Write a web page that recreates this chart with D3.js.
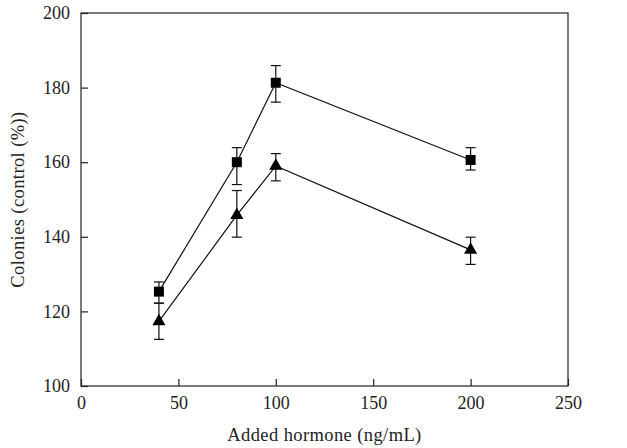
<!DOCTYPE html>
<html lang="en">
<head>
<meta charset="UTF-8">
<script src="https://cdnjs.cloudflare.com/ajax/libs/d3/7.9.0/d3.min.js"></script>
<style>
    body { margin: 0; padding: 0; background: #fff; }
    svg { display: block; }
    text { font-family: "Liberation Serif", "DejaVu Serif", serif; fill: #222; }
</style>
</head>
<body>
<div id="chart"></div>
<script>
    // data
    const doses = [40, 80, 100, 200];
    const squareMean = [125.3, 160.0, 181.3, 160.6];
    const squareLow  = [122.2, 154.0, 176.1, 157.9];
    const squareHigh = [127.9, 163.9, 185.9, 163.9];
    const triMean = [117.3, 145.8, 159.0, 136.5];
    const triLow  = [112.5, 139.9, 155.0, 132.6];
    const triHigh = [122.2, 152.4, 162.3, 139.9];
    const xTicks = [0, 50, 100, 150, 200, 250];
    const yTicks = [100, 120, 140, 160, 180, 200];

    const width = 627, height = 448;
    const margin = {top: 13, right: 59, bottom: 62, left: 81};

    const svg = d3.select("#chart").append("svg")
        .attr("width", width).attr("height", height);

    const x = d3.scaleLinear().domain([0, 250]).range([margin.left, width - margin.right]);
    const y = d3.scaleLinear().domain([100, 200]).range([height - margin.bottom, margin.top]);

    // frame
    svg.append("rect")
        .attr("x", x(0)).attr("y", y(200))
        .attr("width", x(250) - x(0)).attr("height", y(100) - y(200))
        .attr("fill", "none").attr("stroke", "#222").attr("stroke-width", 1.2);

    // axes with inward ticks
    const xAxis = svg.append("g")
        .attr("transform", `translate(0,${y(100)})`)
        .call(d3.axisBottom(x).tickValues(xTicks).tickSizeInner(-7).tickSizeOuter(0).tickPadding(9));
    const yAxis = svg.append("g")
        .attr("transform", `translate(${x(0)},0)`)
        .call(d3.axisLeft(y).tickValues(yTicks).tickSizeInner(-7).tickSizeOuter(0).tickPadding(10));
    [xAxis, yAxis].forEach(g => {
        g.select(".domain").remove();
        g.selectAll(".tick line").attr("stroke", "#222").attr("stroke-width", 1.2);
        g.selectAll(".tick text").attr("font-size", 18).style("fill", "#222");
    });
    xAxis.selectAll(".tick text").attr("dy", "0.8em");
    yAxis.selectAll(".tick text").attr("dx", "-0.05em");

    svg.append("text")
        .attr("x", (x(0) + x(250)) / 2).attr("y", height - 7)
        .attr("text-anchor", "middle").attr("font-size", 18.5)
        .attr("letter-spacing", 0.4)
        .text("Added hormone (ng/mL)");
    svg.append("text")
        .attr("transform", `translate(24,${(y(100) + y(200)) / 2}) rotate(-90)`)
        .attr("text-anchor", "middle").attr("font-size", 18.5)
        .attr("letter-spacing", 0.4)
        .text("Colonies (control (%))");

    function drawSeries(mean, low, high, shape) {
        const pts = doses.map((d, i) => ({x: d, m: mean[i], lo: low[i], hi: high[i]}));
        const line = d3.line().x(d => x(d.x)).y(d => y(d.m));
        svg.append("path").datum(pts)
            .attr("d", line).attr("fill", "none")
            .attr("stroke", "#111").attr("stroke-width", 1.2);

        const eb = svg.append("g").attr("stroke", "#111").attr("stroke-width", 1.2);
        pts.forEach(p => {
            eb.append("line").attr("x1", x(p.x)).attr("x2", x(p.x))
                .attr("y1", y(p.lo)).attr("y2", y(p.hi));
            [p.lo, p.hi].forEach(v => {
                eb.append("line").attr("x1", x(p.x) - 5).attr("x2", x(p.x) + 5)
                    .attr("y1", y(v)).attr("y2", y(v));
            });
        });

        const sym = d3.symbol().type(shape).size(shape === d3.symbolSquare ? 100 : 75);
        svg.append("g").selectAll("path").data(pts).join("path")
            .attr("transform", d => `translate(${x(d.x)},${y(d.m)})`)
            .attr("d", sym).attr("fill", "#000");
    }

    drawSeries(triMean, triLow, triHigh, d3.symbolTriangle);
    drawSeries(squareMean, squareLow, squareHigh, d3.symbolSquare);
</script>
</body>
</html>
